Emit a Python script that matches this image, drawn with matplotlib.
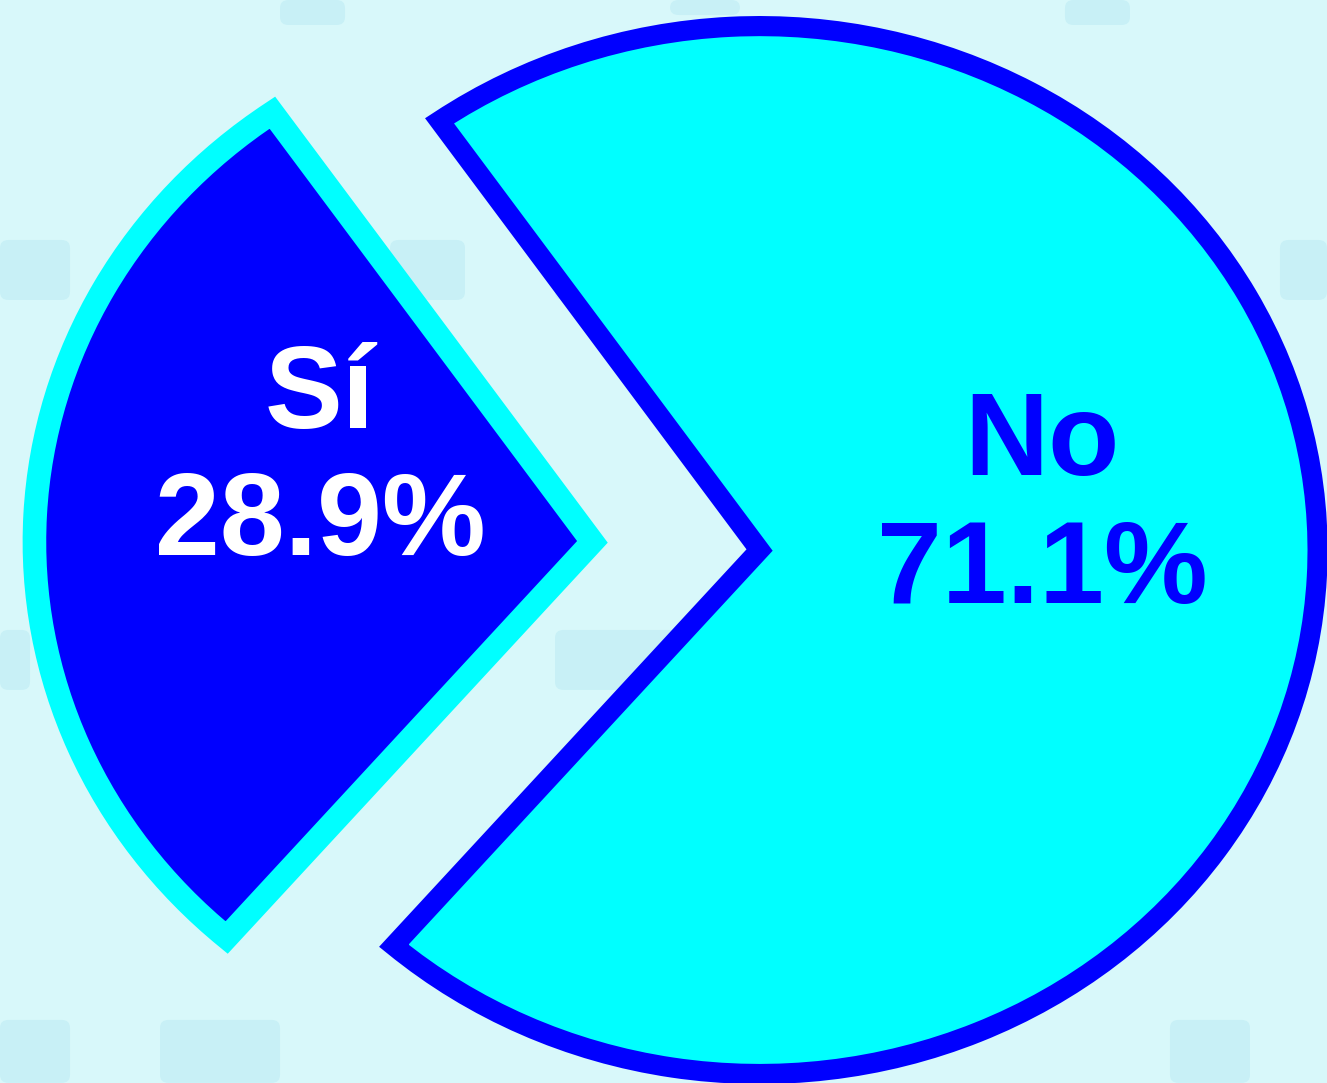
import matplotlib
matplotlib.use("Agg")
import matplotlib.pyplot as plt
from matplotlib.patches import FancyBboxPatch

# datos
categorias = ["Sí", "No"]
porcentajes = [28.9, 71.1]
colores = ["#0000FF", "#00FFFF"]
bordes = ["#00FFFF", "#0000FF"]
color_texto = ["white", "#0000FF"]

plt.rcParams['font.family'] = ['Liberation Sans', 'DejaVu Sans']

fig = plt.figure(figsize=(13.27, 10.83), dpi=100)
fondo = "#D8F8FA"
fig.patch.set_facecolor(fondo)
ax = fig.add_axes([0, 0, 1, 1])
ax.set_facecolor(fondo)

# teclas tenues del fondo (decoracion)
teclas = [(280, 0, 65, 25), (670, 0, 70, 15), (1065, 0, 65, 25),
          (0, 240, 70, 60), (390, 240, 75, 60), (555, 240, 65, 60),
          (1280, 240, 47, 60), (0, 630, 30, 60), (555, 630, 130, 60),
          (0, 1020, 70, 63), (160, 1020, 120, 63), (1170, 1020, 80, 63)]
for (px, py, w, h) in teclas:
    x0 = (px - 676) / 558
    y0 = (546 - py - h) / 524
    ax.add_patch(FancyBboxPatch((x0, y0), w / 558, h / 524,
                                boxstyle="round,pad=0,rounding_size=0.015",
                                facecolor="#B0E6F2", edgecolor="none",
                                alpha=0.4, zorder=0))

wedges, _ = ax.pie(porcentajes, colors=colores, startangle=125,
                   explode=[0.15, 0.15], radius=1, center=(0, 0))
for w, ec, lw in zip(wedges, bordes, [17, 14.5]):
    w.set_edgecolor(ec)
    w.set_linewidth(lw)
    w.set_joinstyle('miter')
    w.set_zorder(2)

ax.set_aspect('auto')
ax.set_xlim(-1.2115, 1.1667)
ax.set_ylim(-1.025, 1.042)
ax.axis('off')

# etiquetas (linea de base en pixeles convertida a datos)
pos = [(320, 428, 555), (1042, 475, 603)]
for cat, pct, col, (px, yb1, yb2) in zip(categorias, porcentajes, color_texto, pos):
    x = (px - 676) / 558
    ax.text(x, (546 - yb1) / 524, cat, ha='center', va='baseline',
            fontsize=84, fontweight='bold', color=col, zorder=3)
    ax.text(x, (546 - yb2) / 524, f"{pct:.1f}%", ha='center', va='baseline',
            fontsize=84, fontweight='bold', color=col, zorder=3)

fig.savefig("out.png", dpi=100, facecolor=fondo)
